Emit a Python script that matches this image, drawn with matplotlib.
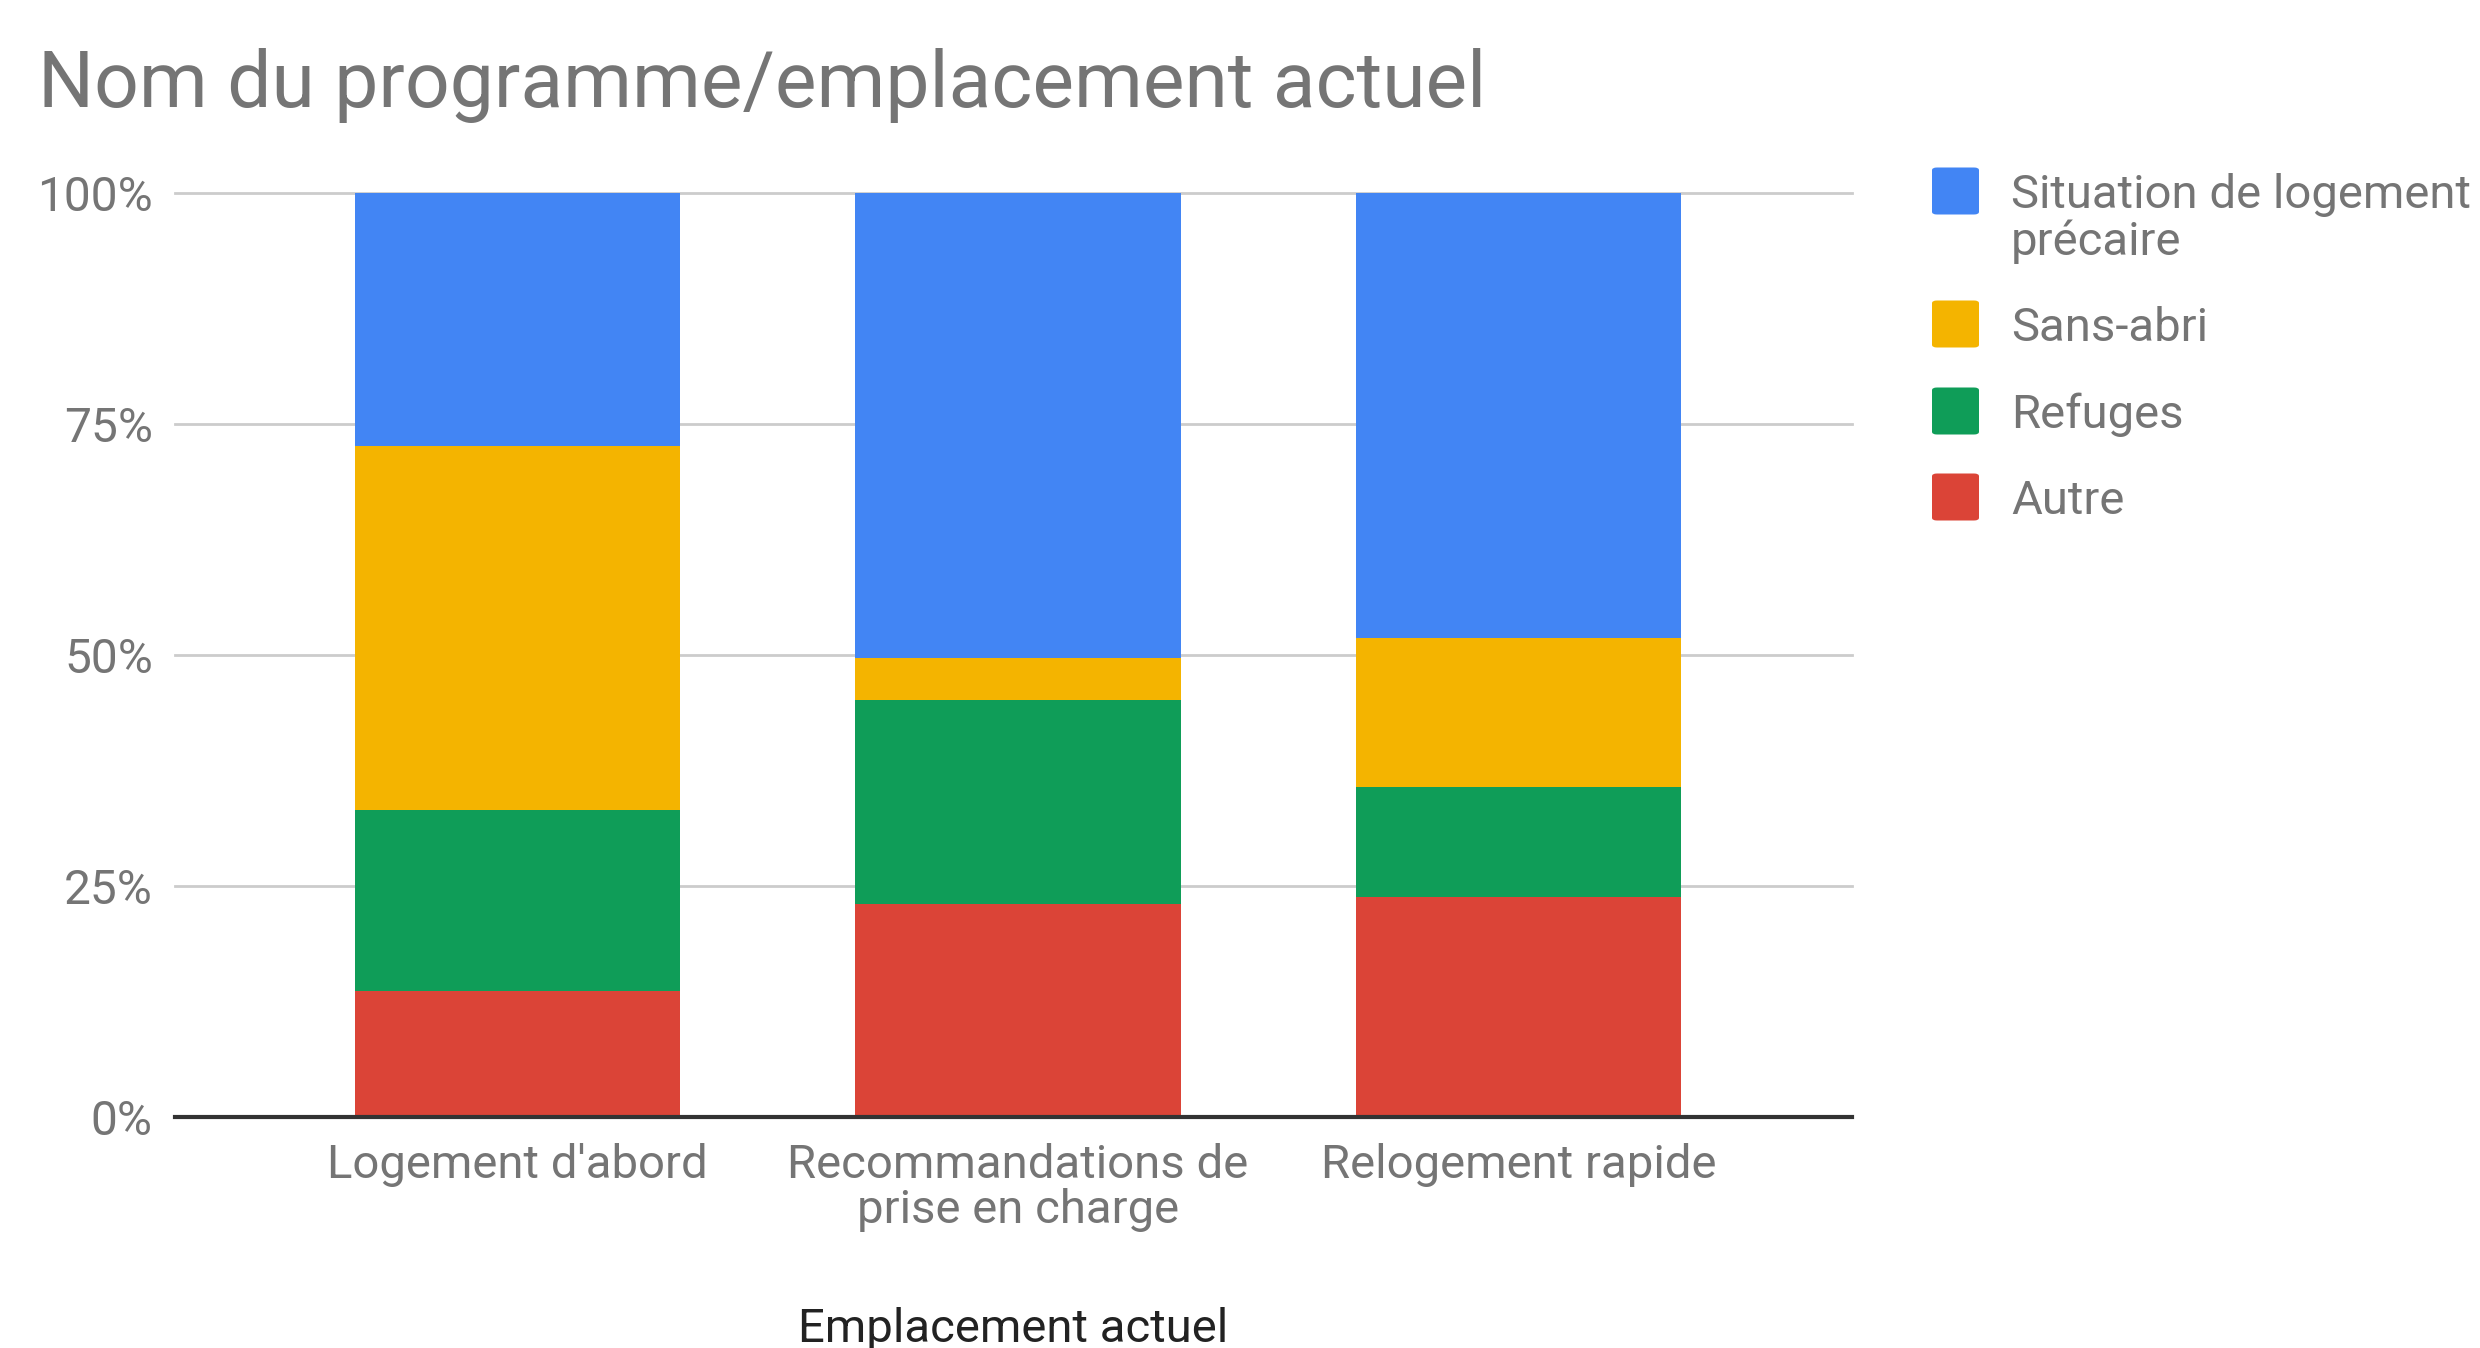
import matplotlib.pyplot as plt
import numpy as np
from matplotlib.patches import FancyBboxPatch
from matplotlib.ticker import FuncFormatter

plt.rcParams['font.family'] = ['Roboto', 'DejaVu Sans']

# share of each current situation per programme (percent)
categories = ["Logement d'abord", "Recommandations de\nprise en charge", "Relogement rapide"]
series_names = ["Situation de logement\nprécaire", "Sans-abri", "Refuges", "Autre"]
autre = [13.6, 23.0, 23.8]
refuges = [19.6, 22.1, 11.9]
sans_abri = [39.4, 4.6, 16.1]
precaire = [27.4, 50.3, 48.2]
yticks = [0, 25, 50, 75, 100]

colors = {"precaire": "#4285F4", "sans_abri": "#F4B400", "refuges": "#0F9D58", "autre": "#DB4437"}
grey = "#757575"
W, H = 2480, 1348

fig = plt.figure(figsize=(W / 100, H / 100), dpi=100)
ax = fig.add_axes([0.0706, 0.1714, 0.6762, 0.6855])

x = np.arange(len(categories))
width = 0.65
bottom = np.zeros(len(categories))
# stack from the bottom: Autre, Refuges, Sans-abri, précaire
for vals, key in [(autre, "autre"), (refuges, "refuges"), (sans_abri, "sans_abri"), (precaire, "precaire")]:
    ax.bar(x, vals, width, bottom=bottom, color=colors[key], zorder=3, linewidth=0)
    bottom += np.array(vals)

ax.set_xlim(-0.684, 2.666)
ax.set_ylim(0, 100)
ax.set_yticks(yticks)
ax.yaxis.set_major_formatter(FuncFormatter(lambda v, p: f"{v:.0f}%"))
ax.set_xticks(x)
ax.set_xticklabels(categories, fontsize=34, color=grey, linespacing=1.02)
ax.tick_params(axis='y', labelsize=34.5, labelcolor=grey, length=0, pad=16)
ax.tick_params(axis='x', length=0, pad=19)

for yv in yticks[1:]:
    ax.axhline(yv, color="#cccccc", linewidth=2, zorder=1, clip_on=False)
ax.axhline(0, color="#333333", linewidth=3, zorder=4, clip_on=False)
for s in ax.spines.values():
    s.set_visible(False)

ax.set_xlabel("Emplacement actuel", fontsize=34, color="#222222", labelpad=54)

fig.text(38 / W, 1 - 107 / H, "Nom du programme/emplacement actuel",
         fontsize=56.5, color=grey, va='baseline', ha='left')

# legend: rounded squares, labels with the first line centred on the square
legend_rows = [(191, "precaire", series_names[0]), (324, "sans_abri", series_names[1]),
               (411, "refuges", series_names[2]), (497, "autre", series_names[3])]
sq = 47
for yc, key, label in legend_rows:
    fig.patches.append(FancyBboxPatch((1932 / W, (H - yc - sq / 2) / H), sq / W, sq / H,
                                      boxstyle="round,pad=0,rounding_size=0.002",
                                      transform=fig.transFigure, facecolor=colors[key],
                                      edgecolor='none'))
    for i, line in enumerate(label.split("\n")):
        base = yc + 17 + i * 47
        fig.text(2011 / W, (H - base) / H, line, fontsize=34, color=grey,
                 va='baseline', ha='left')

fig.savefig("out.png", dpi=100, facecolor="white")
